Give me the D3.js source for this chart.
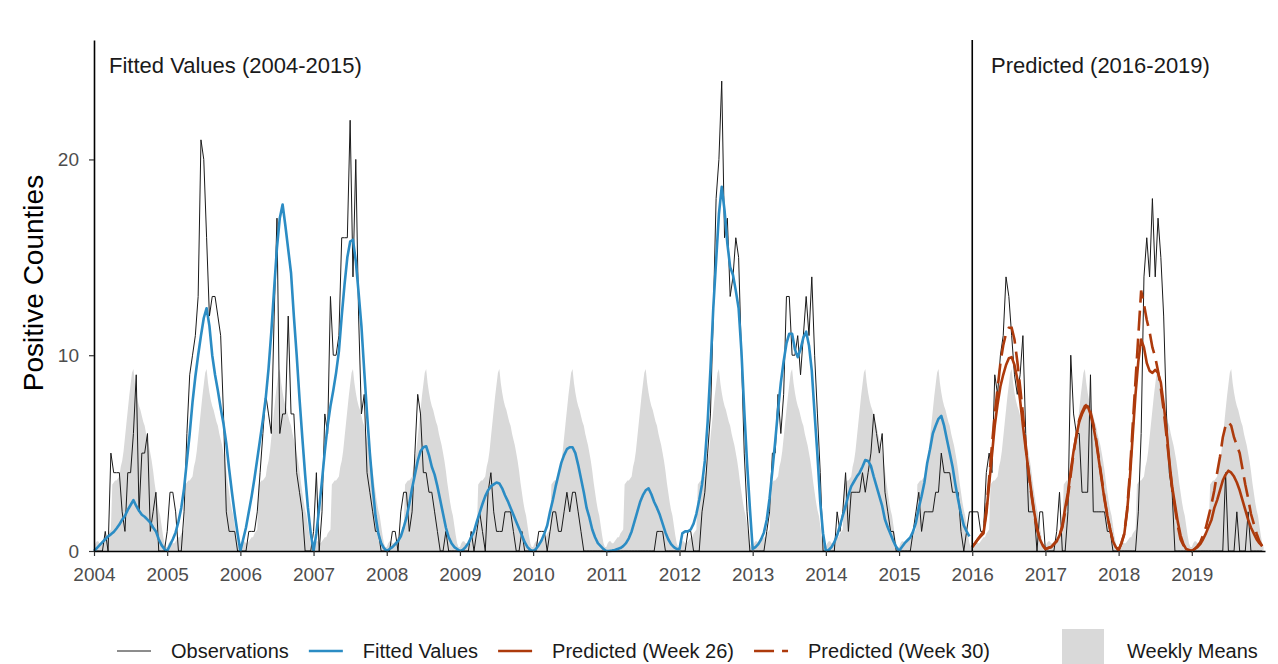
<!DOCTYPE html>
<html>
<head>
<meta charset="utf-8">
<script src="https://cdn.jsdelivr.net/npm/d3@7"></script>
<style>
  body { margin: 0; background: #fff; }
  text { font-family: "Liberation Sans", Arial, sans-serif; }
</style>
</head>
<body>
<div id="chart"></div>
<script>
// years on the axis, one row of biweekly values per year below
const years = [2004, 2005, 2006, 2007, 2008, 2009, 2010, 2011, 2012, 2013, 2014, 2015, 2016, 2017, 2018, 2019];
const yTicks = [0, 10, 20];

// seasonal weekly means (52 weeks), same profile every year
const weeklyMeans = [0.2, 0.4, 0.5, 0.5, 0.4, 0.4, 0.5, 0.6, 0.7, 0.7, 0.9, 1.0, 1.1,
  3.4, 3.5, 3.6, 3.6, 3.7, 3.8, 4.3, 4.6, 5.1, 5.8, 6.5, 7.2, 7.9, 8.5, 9.1, 9.3,
  8.6, 8.1, 7.7, 7.4, 7.2, 6.9, 6.6, 6.4, 6.0, 5.7, 5.4, 5.0, 4.6, 4.1, 3.5, 3.0,
  2.5, 2.1, 1.8, 1.3, 0.8, 0.4, 0.2];

// observed positive counties, 26 values per year (2004-2019)
const observations = [
  [0,0,0,0,1,0,5,4,4,4,2,1,4,4,6,9,2,5,5,6,1,2,3,0,0,0],
  [1,3,3,2,0,0,2,6,9,10,11,13,21,20,16,12,13,13,12,11,7,2,1,1,1,0],
  [0,0,0,1,1,1,2,4,6,8,7,6,12,17,6,7,7,12,7,7,4,3,2,0,0,0],
  [1,4,0,2,7,6,13,10,10,11,16,16,16,22,14,20,12,7,8,4,3,2,1,1,0,0],
  [0,0,1,1,0,2,3,3,1,2,5,8,7,4,4,3,3,2,1,0,0,1,0,0,0,0],
  [0,0,0,0,1,0,1,2,1,0,3,4,2,1,1,1,2,2,2,1,0,0,1,0,0,0],
  [0,0,1,1,1,0,1,2,2,1,1,2,3,2,3,3,2,1,0,0,0,0,0,0,0,0],
  [0,0,0,0,0,0,0,0,0,0,0,0,0,0,0,0,0,0,1,1,1,0,0,0,0,0],
  [0,0,0,1,1,0,0,0,2,3,5,7,12,18,20,24,16,17,13,14,16,15,10,5,2,0],
  [0,0,0,0,0,1,2,5,5,8,6,8,13,13,10,10,11,9,11,13,11,14,10,7,4,0],
  [0,0,0,0,2,1,2,4,1,3,3,3,3,4,3,4,5,7,6,5,6,3,2,1,1,0],
  [0,0,0,0,0,1,2,3,1,2,2,2,2,3,3,5,4,4,4,3,3,3,1,0,1,2],
  [2,2,2,1,1,4,5,4,9,8,10,11,14,13,11,9,8,9,11,6,2,2,2,0,2,2],
  [0,0,0,0,1,3,0,0,2,10,7,6,6,3,3,3,9,2,2,2,2,2,1,1,0,0],
  [0,0,0,0,0,0,0,2,6,14,16,14,18,14,17,15,12,7,4,3,0,0,0,0,0,0],
  [0,0,0,0,0,0,0,0,0,0,0,0,4,0,0,0,2,0,0,0,2,0,0,0,0,0]
];

// fitted values 2004-2015, 26 values per year
const fittedYears = [2004, 2005, 2006, 2007, 2008, 2009, 2010, 2011, 2012, 2013, 2014, 2015];
const fittedValues = [
  [0,0.15,0.3,0.45,0.6,0.75,0.85,0.97,1.15,1.35,1.6,1.8,2.1,2.35,2.6,2.3,2.05,1.85,1.75,1.6,1.45,1.2,1.0,0.6,0.3,0.1],
  [0,0.3,0.6,0.95,1.5,2.2,3.2,4.6,6.0,7.6,8.9,10.0,11.0,11.9,12.4,11.5,10.0,9.0,8.2,7.3,6.5,5.5,4.2,3.0,1.9,0.9],
  [0,0.6,1.2,2.0,2.8,3.7,4.7,5.7,6.7,7.8,9.3,11.2,13.4,15.5,17.0,17.7,16.6,15.4,14.2,12.0,10.0,7.8,5.8,3.9,2.2,0.9],
  [0,0.9,2.2,3.6,5.1,6.4,7.4,8.2,9.1,10.2,12.0,13.6,15.0,15.8,15.9,14.8,13.2,11.5,9.2,7.0,5.0,3.3,1.8,0.9,0.4,0.15],
  [0,0.1,0.2,0.35,0.5,0.75,1.2,1.7,2.4,3.2,3.9,4.6,5.1,5.3,5.35,4.9,4.3,3.9,3.3,2.6,1.9,1.2,0.7,0.4,0.2,0.1],
  [0,0.05,0.2,0.4,0.7,1.0,1.5,1.95,2.4,2.8,3.1,3.3,3.4,3.5,3.45,3.2,2.85,2.55,2.2,1.85,1.5,1.15,0.8,0.45,0.2,0.05],
  [0,0.1,0.3,0.55,0.9,1.3,2.0,2.6,3.3,3.9,4.5,4.9,5.2,5.3,5.3,5.0,4.4,3.7,3.0,2.2,1.7,1.1,0.7,0.4,0.25,0.1],
  [0,0,0.02,0.05,0.1,0.15,0.25,0.4,0.65,1.0,1.5,2.0,2.5,2.85,3.1,3.2,2.9,2.5,2.2,1.85,1.4,0.95,0.6,0.35,0.2,0.1],
  [0.1,0.9,1.0,1.0,1.1,1.4,1.9,2.6,3.4,4.6,6.6,9.3,12.4,14.8,17.2,18.6,17.4,15.7,14.5,14.1,13.3,12.4,10.2,7.2,4.5,2.2],
  [0.1,0.2,0.35,0.6,0.95,1.6,2.7,4.1,5.6,7.2,8.6,9.7,10.6,11.1,11.1,10.3,9.9,10.3,10.9,11.2,10.5,9.2,7.0,4.9,2.5,0.9],
  [0,0.05,0.2,0.45,0.8,1.3,1.8,2.3,2.85,3.3,3.55,3.8,4.0,4.3,4.65,4.6,4.35,3.8,3.3,2.8,2.3,1.6,1.2,0.85,0.5,0.2],
  [0,0.2,0.4,0.55,0.7,1.0,1.45,2.2,2.8,3.5,4.5,5.2,6.0,6.4,6.75,6.9,6.4,5.7,5.0,4.3,3.4,2.6,1.9,1.3,1.0,0.75]
];

// predictions 2016-2019, 26 values per year
const predictedYears = [2016, 2017, 2018, 2019];
const predictedWeek26 = [
  [0.2,0.4,0.6,0.75,0.9,1.9,3.4,4.9,6.4,7.5,8.4,9.0,9.5,9.85,9.9,9.5,8.8,7.7,6.4,5.2,4.1,3.0,2.0,1.2,0.6,0.3],
  [0.1,0.15,0.2,0.35,0.5,0.8,1.3,2.2,3.0,4.1,5.1,5.9,6.6,7.0,7.3,7.4,7.0,6.4,5.6,4.6,3.6,2.6,1.8,1.1,0.5,0.2],
  [0.05,0.4,0.85,2.0,3.7,5.9,8.0,9.7,10.8,10.4,9.6,9.2,9.1,9.25,9.1,8.6,7.5,6.2,4.6,3.3,2.4,1.5,0.8,0.35,0.1,0.05],
  [0,0.1,0.2,0.35,0.6,0.9,1.25,1.6,2.2,2.6,3.1,3.6,3.9,4.1,4.0,3.8,3.5,3.1,2.6,2.1,1.6,1.2,0.9,0.6,0.4,0.25]
];
const predictedWeek30 = [
  [0.2,0.4,0.6,0.8,1.0,2.1,3.7,5.4,7.0,8.3,9.6,10.5,11.1,11.4,11.4,10.8,9.7,8.4,7.0,5.4,4.0,2.9,1.9,1.1,0.6,0.3],
  [0.1,0.15,0.2,0.35,0.5,0.8,1.2,2.0,2.8,3.9,5.0,5.9,6.7,7.1,7.4,7.5,7.1,6.5,5.7,4.7,3.7,2.7,1.8,1.1,0.5,0.2],
  [0.05,0.4,0.9,2.1,4.0,6.4,8.7,11.0,13.3,12.6,11.8,11.2,10.4,9.9,9.2,8.3,7.2,5.9,4.5,3.2,2.2,1.3,0.6,0.3,0.1,0.05],
  [0,0.1,0.25,0.45,0.8,1.2,1.8,2.4,3.1,4.0,4.8,5.8,6.4,6.6,6.4,5.8,5.4,5.0,4.2,3.4,2.7,1.9,1.4,0.9,0.5,0.25]
];

const width = 1278;
const height = 664;
const blue = '#2b8cc4';
const red = '#ad3a0c';
const grey = '#d9d9d9';

const svg = d3.select('#chart')
  .append('svg')
  .attr('width', width)
  .attr('height', height);

const x = d3.scaleLinear().domain([2004, 2020]).range([94, 1265]);
const y = d3.scaleLinear().domain([0, 26.1]).range([551, 40]);

// turn year rows into (time, value) points
function toPoints(rowYears, rows) {
  const pts = [];
  rows.forEach((row, i) => {
    row.forEach((v, k) => pts.push({ t: rowYears[i] + k / row.length, v: v }));
  });
  return pts;
}

const meanPoints = toPoints(years, years.map(() => weeklyMeans));
const obsPoints = toPoints(years, observations);
const fitPoints = toPoints(fittedYears, fittedValues);
const p26Points = toPoints(predictedYears, predictedWeek26);
const p30Points = toPoints(predictedYears, predictedWeek30);

// weekly means area
svg.append('path')
  .datum(meanPoints)
  .attr('fill', grey)
  .attr('d', d3.area().x(d => x(d.t)).y0(y(0)).y1(d => y(d.v)));

const line = d3.line().x(d => x(d.t)).y(d => y(d.v));

svg.append('path')
  .datum(obsPoints)
  .attr('fill', 'none')
  .attr('stroke', '#1a1a1a')
  .attr('stroke-width', 1)
  .attr('d', line);

svg.append('path')
  .datum(fitPoints)
  .attr('fill', 'none')
  .attr('stroke', blue)
  .attr('stroke-width', 2.6)
  .attr('stroke-linejoin', 'round')
  .attr('d', line);

svg.append('path')
  .datum(p26Points)
  .attr('fill', 'none')
  .attr('stroke', red)
  .attr('stroke-width', 2.6)
  .attr('stroke-linejoin', 'round')
  .attr('d', line);

svg.append('path')
  .datum(p30Points)
  .attr('fill', 'none')
  .attr('stroke', red)
  .attr('stroke-width', 2.6)
  .attr('stroke-dasharray', '20,8')
  .attr('d', line);

// split between fitted and predicted period
svg.append('line')
  .attr('x1', x(2016)).attr('x2', x(2016))
  .attr('y1', y.range()[1]).attr('y2', y(0))
  .attr('stroke', '#000')
  .attr('stroke-width', 1.6);

// axes
const xAxis = svg.append('g')
  .attr('transform', `translate(0,${y(0)})`)
  .call(d3.axisBottom(x).tickValues(years).tickFormat(d3.format('d'))
    .tickSize(5).tickSizeOuter(0).tickPadding(12));

const yAxis = svg.append('g')
  .attr('transform', `translate(${x(2004)},0)`)
  .call(d3.axisLeft(y).tickValues(yTicks).tickSize(5).tickSizeOuter(0).tickPadding(10));

[xAxis, yAxis].forEach(g => {
  g.select('.domain').attr('stroke', '#000').attr('stroke-width', 1.6);
  g.selectAll('.tick line').attr('stroke', '#333').attr('stroke-width', 1.2);
  g.selectAll('.tick text')
    .attr('fill', '#4d4d4d')
    .style('font-size', '19px')
    .style('font-family', '"Liberation Sans", Arial, sans-serif');
});

// axis title
svg.append('text')
  .attr('transform', 'translate(43,283) rotate(-90)')
  .attr('text-anchor', 'middle')
  .style('font-size', '28px')
  .attr('fill', '#000')
  .text('Positive Counties');

// period labels
svg.append('text')
  .attr('x', 109).attr('y', 73)
  .style('font-size', '22px')
  .attr('fill', '#1a1a1a')
  .text('Fitted Values (2004-2015)');

svg.append('text')
  .attr('x', 991).attr('y', 73)
  .style('font-size', '22px')
  .attr('fill', '#1a1a1a')
  .text('Predicted (2016-2019)');

// legend
const legendItems = [
  { label: 'Observations', color: '#1a1a1a', w: 1, dash: null },
  { label: 'Fitted Values', color: blue, w: 2.6, dash: null },
  { label: 'Predicted (Week 26)', color: red, w: 2.6, dash: null },
  { label: 'Predicted (Week 30)', color: red, w: 2.6, dash: '20,8' }
];

const legendY = 651;
let lx = 117;
legendItems.forEach(item => {
  svg.append('line')
    .attr('x1', lx).attr('x2', lx + 34)
    .attr('y1', legendY).attr('y2', legendY)
    .attr('stroke', item.color)
    .attr('stroke-width', item.w)
    .attr('stroke-dasharray', item.dash);
  const t = svg.append('text')
    .attr('x', lx + 54).attr('y', legendY + 7)
    .style('font-size', '20px')
    .attr('fill', '#1a1a1a')
    .text(item.label);
  lx += 54 + t.node().getComputedTextLength() + 20;
});

svg.append('rect')
  .attr('x', 1062).attr('y', 629)
  .attr('width', 42).attr('height', 40)
  .attr('fill', grey);

svg.append('text')
  .attr('x', 1127).attr('y', legendY + 7)
  .style('font-size', '20px')
  .attr('fill', '#1a1a1a')
  .text('Weekly Means');
</script>
</body>
</html>
